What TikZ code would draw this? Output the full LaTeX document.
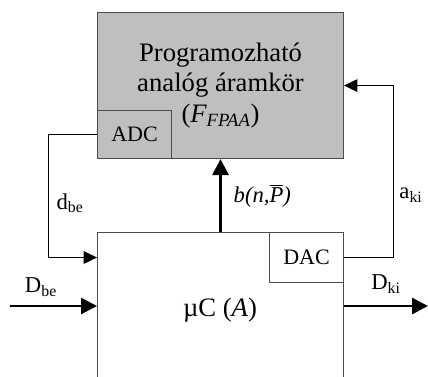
\documentclass[tikz,border=0pt]{standalone}
\usepackage{fontspec}
\setmainfont{Liberation Serif}
\usetikzlibrary{arrows.meta,positioning}

\tikzset{
  blockbox/.style={draw=black!70, line width=0.8pt, anchor=north west, inner sep=0pt},
  wire/.style={line width=0.75pt, -{Triangle[length=10pt, width=9.5pt]}},
  busline/.style={line width=2.2pt, -{Triangle[length=12pt, width=12pt]}},
  siglabel/.style={font=\fontsize{17}{20}\selectfont},
  convlabel/.style={font=\fontsize{16.5}{19}\selectfont}
}

\begin{document}
\begin{tikzpicture}[x=0.75pt, y=-0.75pt]
    \useasboundingbox (0,0) rectangle (428,376);

    % blocks
    \node[blockbox, fill=black!25, minimum width=184.5pt, minimum height=109.5pt, align=center, font=\fontsize{20}{23}\selectfont] (fpaa) at (97,12) {Programozható\\analóg áramkör\\({\itshape F\textsubscript{FPAA}})};
    \node[blockbox, minimum width=55.5pt, minimum height=36pt, convlabel] (adc) at (97,110) {ADC};
    \node[blockbox, fill=white, minimum width=184.5pt, minimum height=130pt] (mcu) at (97,232) {};
    \node[blockbox, minimum width=55.5pt, minimum height=37.5pt, convlabel] (dac) at (269,232) {DAC};
    \node[font=\fontsize{20}{23}\selectfont] (mcutext) at (220,310) {µC (\textit{A})};

    \coordinate (dbein) at (10,306);
    \coordinate (dkiout) at (428,306);

    % connections
    \draw[wire] (adc.west) -- ++(-49,0) |- (mcu.west |- dac.west);
    \draw[wire] (dac.east) -- ++(49,0) |- (fpaa.east);
    \draw[busline] (mcu.north) -- (fpaa.south);
    \draw[busline] (dbein) -- (mcu.west |- dbein);
    \draw[busline] (mcu.east |- dkiout) -- (dkiout);

    % labels
    \node[siglabel] (dbe) at (70,203) {d\textsubscript{be}};
    \node[siglabel] (aki) at (411,195) {a\textsubscript{ki}};
    \node[siglabel, anchor=west] (bnp) at (229,197) {\textit{b(n,\smash{$\overline{\mbox{\textit{P}}}$})}};
    \node[siglabel] (dbelabel) at (41,287) {D\textsubscript{be}};
    \node[siglabel] (dkilabel) at (386,284) {D\textsubscript{ki}};
\end{tikzpicture}
\end{document}
